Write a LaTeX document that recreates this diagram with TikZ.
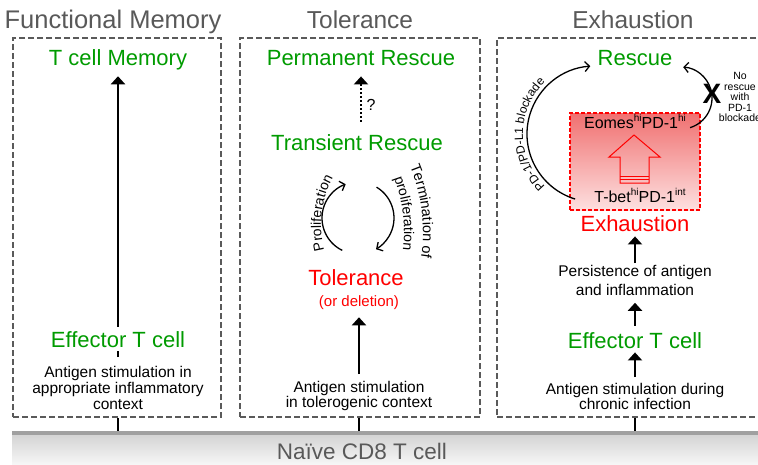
\documentclass[tikz,border=0pt]{standalone}
\usepackage{fontspec}
\setmainfont{Liberation Sans}
\usetikzlibrary{arrows.meta,calc,decorations.text}
\definecolor{tgray}{RGB}{89,89,89}
\definecolor{bgray}{RGB}{90,90,90}
\definecolor{grn}{RGB}{0,155,0}
\definecolor{rd}{RGB}{255,0,0}
\definecolor{rtop}{RGB}{240,112,112}
\definecolor{rbot}{RGB}{253,224,224}
\definecolor{barline}{RGB}{160,160,160}
\definecolor{bartopc}{RGB}{212,212,212}
\definecolor{barbotc}{RGB}{246,246,246}
\newcommand{\supx}[1]{\raisebox{0.42em}{\fontsize{10}{10}\selectfont #1}}
\begin{document}
\begin{tikzpicture}[x=1pt,y=1pt,
  ttl/.style={font=\fontsize{24.5}{28}\selectfont, text=tgray, anchor=base, inner sep=0},
  gtxt/.style={font=\fontsize{22}{26}\selectfont, text=grn, anchor=base, inner sep=0},
  rtxt/.style={font=\fontsize{22}{26}\selectfont, text=rd, anchor=base, inner sep=0},
  stxt/.style={font=\fontsize{15.5}{16}\selectfont, align=center, anchor=north, inner sep=0},
  dbox/.style={draw=bgray, line width=1.8pt, dash pattern=on 6pt off 3pt, minimum width=#1, minimum height=379pt, inner sep=0},
  bigarr/.style={line width=2.2pt, -{Triangle[length=8pt,width=14pt]}},
  thinarr/.style={line width=1.3pt, -{Straight Barb[length=4.5pt,width=10pt]}},
  tickln/.style={line width=2pt},
]
\useasboundingbox (0,0) rectangle (758,-464);
\clip (0,0) rectangle (758,-464);

% boxes
\node[dbox=208pt] (b1) at (117,-227.5) {};
\node[dbox=240pt] (b2) at (360,-227.5) {};
\node[dbox=273pt] (b3) at (633.5,-227.5) {};

% titles
\node[ttl, font=\fontsize{25.5}{28}\selectfont] (t1) at (113,-28) {Functional Memory};
\node[ttl] (t2) at (360,-28) {Tolerance};
\node[ttl] (t3) at (633,-28) {Exhaustion};

% ---- Functional memory
\node[gtxt] (mem) at (118,-65) {T cell Memory};
\node[stxt] (ant1) at (118,-366) {Antigen stimulation in\\appropriate inflammatory\\context};
\draw[bigarr, shorten <=9pt, shorten >=6.5pt] (ant1.north) -- (mem.south);
\node[gtxt, fill=white, inner sep=4pt] (eff1) at (118,-347) {Effector T cell};

% ---- Tolerance
\node[gtxt] (perm) at (361,-65) {Permanent Rescue};
\node[gtxt] (trans) at (357,-150) {Transient Rescue};
\draw[line width=2.4pt, dash pattern=on 2pt off 2pt, -{Triangle[length=8pt,width=14pt]}, shorten <=12pt, shorten >=11pt] (trans.north -| perm.south) -- (perm.south);
\node[font=\fontsize{16}{18}\selectfont, anchor=base, inner sep=0] (q) at (371,-110) {?};

\coordinate (cyc) at (358,-218);
\draw[thinarr] ($(cyc)+(244:36pt)$) arc[start angle=244,end angle=110,radius=36pt];
\draw[thinarr] ($(cyc)+(59:36pt)$) arc[start angle=59,end angle=-60,radius=36pt];
\coordinate (cl) at (420,-225);
\coordinate (cr) at (252,-232);
\path[decorate, decoration={text along path, text align=center, text={|\fontsize{14}{16}\selectfont|Proliferation}}]
  ($(cl)+(205:99pt)$) arc[start angle=205,end angle=141,radius=99pt];
\path[decorate, decoration={text along path, text align=center, text={|\fontsize{14}{16}\selectfont|proliferation}}]
  ($(cr)+(32:152pt)$) arc[start angle=32,end angle=-18,radius=152pt];
\path[decorate, decoration={text along path, text align=center, text={|\fontsize{14.5}{16}\selectfont|Termination of}}]
  ($(cr)+(30:171pt)$) arc[start angle=30,end angle=-16,radius=171pt];

\node[rtxt] (tol) at (356,-285) {Tolerance};
\node[font=\fontsize{15}{17}\selectfont, text=rd, anchor=base, inner sep=0] (del) at (359,-306) {(or deletion)};
\node[stxt, font=\fontsize{15.5}{15}\selectfont] (ant2) at (359,-381) {Antigen stimulation\\in tolerogenic context};
\draw[bigarr, shorten <=7pt, shorten >=8pt] (ant2.north) -- (del.south);

% ---- Exhaustion
\node[gtxt] (resc) at (635,-65) {Rescue};
\node[draw=rd, line width=1.2pt, dash pattern=on 4pt off 2pt, top color=rtop, bottom color=rbot, minimum width=130pt, minimum height=97pt, inner sep=0] (rb) at (635,-161.5) {};
\draw[rd, line width=1pt] (634,-135) -- (660,-157) -- (649,-157) -- (649,-183) -- (620,-183) -- (620,-157) -- (609,-157) -- cycle;
\draw[rd, line width=1pt] (620,-176.5) -- (649,-176.5) (620,-179.8) -- (649,-179.8);
\node[font=\fontsize{16}{18}\selectfont, anchor=base, inner sep=0] (eom) at (635,-128) {Eomes\supx{hi}PD-1\supx{hi}};
\node[font=\fontsize{16}{18}\selectfont, anchor=base, inner sep=0] (tbet) at (640,-202) {T-bet\supx{hi}PD-1\supx{int}};
\node[rtxt] (exh) at (635,-231) {Exhaustion};
\node[stxt, font=\fontsize{15.5}{19}\selectfont] (pers) at (635,-265) {Persistence of antigen\\and inflammation};
\node[gtxt] (eff3) at (635,-348) {Effector T cell};
\node[stxt, font=\fontsize{15.5}{15}\selectfont] (ant3) at (635,-383) {Antigen stimulation during\\chronic infection};
\draw[bigarr, shorten <=2pt, shorten >=5pt] (pers.north) -- (exh.south);
\draw[bigarr, shorten <=6pt, shorten >=7pt] (eff3.north) -- (pers.south);
\draw[bigarr, shorten <=6pt, shorten >=4pt] (ant3.north) -- (eff3.south);

\coordinate (ex1) at (595,-134);
\draw[thinarr] ($(ex1)+(253:68pt)$) arc[start angle=253,end angle=94,radius=68pt];
\path[decorate, decoration={text along path, text align=center, text={|\fontsize{12}{14}\selectfont|PD-1/PD-L1 blockade}}]
  ($(ex1)+(237:72pt)$) arc[start angle=237,end angle=123,radius=72pt];

\coordinate (ex2) at (681,-98);
\draw[thinarr] ($(ex2)+(-73:31pt)$) arc[start angle=-73,end angle=86,radius=31pt];
\node[font=\bfseries\fontsize{28}{30}\selectfont, inner sep=0] (xx) at (712,-94) {X};
\node[font=\fontsize{10.5}{10.5}\selectfont, align=center, anchor=north, inner sep=0] (nores) at (740,-72.5) {No\\rescue\\with\\PD-1\\blockade};

% ---- bottom bar
\coordinate (bartop) at (0,-431);
\fill[barline] (12,-431) rectangle (770,-435);
\shade[top color=bartopc, bottom color=barbotc] (12,-435) rectangle (770,-464);
\node[font=\fontsize{22.5}{26}\selectfont, text=tgray, anchor=base, inner sep=0] (naive) at (362,-459) {Naïve CD8 T cell};
\draw[tickln] (ant1.south |- b1.south) -- (ant1.south |- bartop);
\draw[tickln] (ant2.south |- b2.south) -- (ant2.south |- bartop);
\draw[tickln] (ant3.south |- b3.south) -- (ant3.south |- bartop);
\end{tikzpicture}
\end{document}
